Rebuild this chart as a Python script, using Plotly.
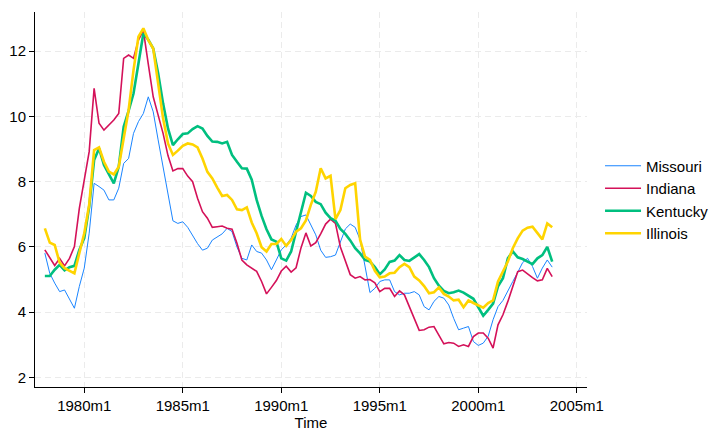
import plotly.graph_objects as go

# Quarterly readings (1978m1 .. 2003m10), unemployment rate (%)
start_month = 216  # 1978m1 in Stata %tm units (months since 1960m1)
step_months = 3

missouri = [5.81, 5.19, 4.89, 4.63, 4.68, 4.38, 4.12, 4.79, 5.35, 6.42, 7.95, 7.85,
            7.74, 7.44, 7.44, 7.80, 8.56, 8.71, 9.48, 9.84, 10.09, 10.60, 10.14, 9.28,
            8.46, 7.60, 6.80, 6.72, 6.77, 6.60, 6.35, 6.10, 5.90, 5.96, 6.21, 6.31,
            6.40, 6.57, 6.47, 6.00, 5.65, 5.60, 6.06, 5.86, 5.81, 5.60, 5.30, 5.60,
            5.91, 6.06, 6.27, 6.67, 6.93, 6.98, 6.67, 6.37, 5.90, 5.68, 5.70, 5.75,
            6.15, 6.55, 6.70, 6.60, 6.22, 5.40, 4.60, 4.73, 4.94, 4.99, 4.99, 4.63,
            4.53, 4.58, 4.58, 4.63, 4.53, 4.17, 4.07, 4.33, 4.48, 4.43, 4.22, 3.81,
            3.46, 3.51, 3.56, 3.10, 2.98, 3.05, 3.26, 3.77, 4.17, 4.36, 4.63, 4.94,
            5.22, 5.52, 5.65, 5.40, 5.04, 5.35, 5.60, 5.38]

indiana = [5.91, 5.65, 5.43, 5.65, 5.42, 5.65, 6.01, 7.18, 8.00, 8.92, 10.86, 9.79,
           9.58, 9.74, 9.89, 10.09, 11.78, 11.88, 11.78, 12.34, 12.64, 11.60, 10.60, 10.04,
           9.48, 8.80, 8.33, 8.40, 8.40, 8.17, 8.00, 7.49, 7.08, 6.88, 6.60, 6.62,
           6.64, 6.57, 6.54, 6.11, 5.60, 5.45, 5.35, 5.25, 4.94, 4.56, 4.76, 4.97,
           5.26, 5.41, 5.23, 5.36, 5.97, 6.43, 6.03, 6.13, 6.40, 6.70, 6.85, 6.72,
           6.00, 5.60, 5.15, 5.04, 5.09, 4.99, 5.00, 4.90, 4.63, 4.73, 4.73, 4.48,
           4.65, 4.53, 4.17, 3.77, 3.44, 3.46, 3.54, 3.56, 3.30, 3.03, 3.07, 3.05,
           2.95, 3.00, 2.95, 3.25, 3.36, 3.36, 3.20, 2.90, 3.61, 3.92, 4.33, 4.78,
           5.24, 5.29, 5.17, 5.06, 4.96, 4.99, 5.34, 5.09]

kentucky = [5.11, 5.11, 5.30, 5.45, 5.28, 5.38, 5.42, 5.91, 6.27, 7.23, 8.66, 9.02,
            8.51, 8.23, 7.95, 8.46, 9.68, 10.17, 10.70, 11.62, 12.54, 12.35, 12.08, 11.32,
            10.40, 9.63, 9.12, 9.30, 9.46, 9.48, 9.61, 9.70, 9.63, 9.40, 9.23, 9.22,
            9.17, 9.22, 8.82, 8.61, 8.41, 8.40, 8.06, 7.44, 6.95, 6.54, 6.23, 6.16,
            5.65, 5.58, 5.86, 6.47, 7.03, 7.66, 7.56, 7.38, 7.31, 7.05, 6.88, 6.80,
            6.55, 6.40, 6.20, 5.96, 5.80, 5.60, 5.55, 5.38, 5.16, 5.31, 5.54, 5.58,
            5.75, 5.60, 5.57, 5.68, 5.78, 5.60, 5.38, 5.04, 4.81, 4.65, 4.58, 4.61,
            4.66, 4.60, 4.50, 4.41, 4.15, 3.89, 4.07, 4.26, 4.79, 5.04, 5.65, 5.86,
            5.68, 5.63, 5.55, 5.47, 5.65, 5.75, 6.00, 5.55]

illinois = [6.57, 6.13, 6.06, 5.52, 5.35, 5.28, 5.19, 5.81, 6.42, 7.29, 8.97, 9.05,
            8.61, 8.31, 8.22, 8.46, 9.38, 10.19, 11.42, 12.44, 12.70, 12.34, 12.08, 10.96,
            9.94, 9.17, 8.82, 8.95, 9.10, 9.17, 9.14, 9.05, 8.71, 8.30, 8.10, 7.82,
            7.56, 7.59, 7.44, 7.15, 7.13, 7.21, 6.75, 6.42, 5.99, 5.86, 6.09, 6.09,
            6.24, 6.03, 6.21, 6.47, 6.57, 6.81, 7.29, 7.69, 8.41, 8.10, 8.18, 6.85,
            7.13, 7.80, 7.90, 7.95, 6.22, 5.70, 5.60, 5.27, 5.07, 5.09, 5.19, 5.21,
            5.38, 5.48, 5.38, 5.09, 4.97, 4.80, 4.58, 4.61, 4.76, 4.56, 4.48, 4.36,
            4.38, 4.15, 4.36, 4.28, 4.22, 4.14, 4.28, 4.36, 4.94, 5.27, 5.55, 5.96,
            6.26, 6.50, 6.59, 6.62, 6.42, 6.23, 6.72, 6.60]

series_names = ["Missouri", "Indiana", "Kentucky", "Illinois"]
series_colors = ["#1a85ff", "#d41159", "#00bf7f", "#ffd400"]
series_widths = [1.0, 1.6, 2.6, 2.6]

x_tick_vals = [240, 300, 360, 420, 480, 540]
x_tick_text = ["1980m1", "1985m1", "1990m1", "1995m1", "2000m1", "2005m1"]
y_tick_vals = [2, 4, 6, 8, 10, 12]

months = [start_month + step_months * i for i in range(len(missouri))]

FONT = "Liberation Sans, Arial, sans-serif"

fig = go.Figure()
for name, vals, col, w in zip(series_names, [missouri, indiana, kentucky, illinois],
                              series_colors, series_widths):
    fig.add_trace(go.Scatter(x=months, y=vals, mode="lines", name=name,
                             line=dict(color=col, width=w, shape="linear")))

axis_common = dict(
    showline=True, linecolor="black", linewidth=1,
    ticks="outside", ticklen=5, tickcolor="black", tickwidth=1,
    showgrid=True, gridcolor="#ebebeb", gridwidth=1, griddash="6px,4px",
    zeroline=False, automargin=False,
    tickfont=dict(family=FONT, size=15, color="black"),
)

fig.update_layout(
    width=714, height=431,
    margin=dict(l=35, r=127, t=12, b=44, pad=0, autoexpand=False),
    paper_bgcolor="white", plot_bgcolor="white",
    font=dict(family=FONT, size=15, color="black"),
    xaxis=dict(range=[210.0, 546.2], tickvals=x_tick_vals, ticktext=x_tick_text,
               title=dict(text="Time", font=dict(family=FONT, size=15), standoff=7),
               **axis_common),
    yaxis=dict(range=[1.706, 13.2], tickvals=y_tick_vals, **axis_common),
    legend=dict(x=1.0236, xanchor="left", y=0.5, yanchor="middle",
                font=dict(family=FONT, size=15, color="black"),
                bgcolor="rgba(0,0,0,0)", itemwidth=36, tracegroupgap=0),
    showlegend=True,
)

fig.write_html("out.html")
